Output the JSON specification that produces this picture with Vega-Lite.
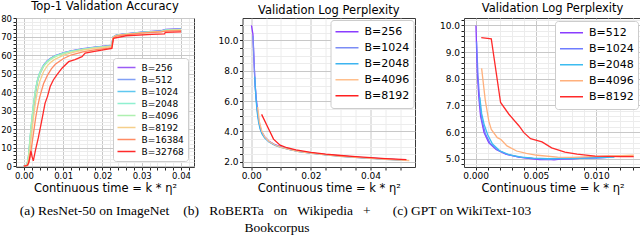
{
  "$schema": "https://vega.github.io/schema/vega-lite/v6.json",
  "padding": 0,
  "background": "white",
  "config": {
    "font": "DejaVu Sans",
    "view": {"stroke": "#3a3a3a", "strokeWidth": 1},
    "axis": {"domain": false, "grid": true, "labelFont": "DejaVu Sans", "labelColor": "#000", "tickColor": "#222", "tickSize": 3, "labelPadding": 1.5, "titleFont": "DejaVu Sans", "titleFontWeight": "normal", "titleColor": "#000", "titleFontSize": 11.5, "labelOverlap": false, "labelFlush": false, "titlePadding": 2},
    "title": {"font": "DejaVu Sans", "fontWeight": "normal", "fontSize": 11.5, "color": "#000", "offset": 2, "anchor": "middle"},
    "legend": {"fillColor": "white", "strokeColor": "#cccccc", "cornerRadius": 3, "symbolType": "stroke", "labelFont": "DejaVu Sans", "labelColor": "#000"}
  },
  "datasets": {
    "resnet": [
      {"B":"B=256","t":0,"v":0},{"B":"B=256","t":0.0008,"v":0.5},{"B":"B=256","t":0.0012,"v":5},{"B":"B=256","t":0.0016,"v":14},{"B":"B=256","t":0.002,"v":23},{"B":"B=256","t":0.0025,"v":33},{"B":"B=256","t":0.003,"v":41},{"B":"B=256","t":0.0035,"v":46.5},{"B":"B=256","t":0.004,"v":50},{"B":"B=256","t":0.005,"v":54.5},{"B":"B=256","t":0.006,"v":57},{"B":"B=256","t":0.007,"v":58.5},{"B":"B=256","t":0.008,"v":59.7},{"B":"B=256","t":0.01,"v":61.2},{"B":"B=256","t":0.012,"v":62.3},{"B":"B=256","t":0.015,"v":63.4},{"B":"B=256","t":0.018,"v":64.3},{"B":"B=256","t":0.0215,"v":65},{"B":"B=256","t":0.0224,"v":65.3},{"B":"B=256","t":0.0227,"v":69.8},{"B":"B=256","t":0.0235,"v":70.8},{"B":"B=256","t":0.025,"v":71.3},{"B":"B=256","t":0.03,"v":72.4},{"B":"B=256","t":0.035,"v":73.1},{"B":"B=256","t":0.036,"v":73.8},{"B":"B=256","t":0.04,"v":74.2},
      {"B":"B=512","t":0,"v":0},{"B":"B=512","t":0.0008,"v":0.4},{"B":"B=512","t":0.0012,"v":4.5},{"B":"B=512","t":0.0016,"v":13},{"B":"B=512","t":0.002,"v":22},{"B":"B=512","t":0.0025,"v":32},{"B":"B=512","t":0.003,"v":40},{"B":"B=512","t":0.0035,"v":46},{"B":"B=512","t":0.004,"v":49.5},{"B":"B=512","t":0.005,"v":54},{"B":"B=512","t":0.006,"v":56.7},{"B":"B=512","t":0.007,"v":58.3},{"B":"B=512","t":0.008,"v":59.5},{"B":"B=512","t":0.01,"v":61},{"B":"B=512","t":0.012,"v":62.1},{"B":"B=512","t":0.015,"v":63.2},{"B":"B=512","t":0.018,"v":64.1},{"B":"B=512","t":0.0215,"v":64.9},{"B":"B=512","t":0.0224,"v":65.1},{"B":"B=512","t":0.0227,"v":69.7},{"B":"B=512","t":0.0235,"v":70.7},{"B":"B=512","t":0.025,"v":71.2},{"B":"B=512","t":0.03,"v":72.3},{"B":"B=512","t":0.035,"v":73},{"B":"B=512","t":0.036,"v":73.7},{"B":"B=512","t":0.04,"v":74.1},
      {"B":"B=1024","t":0,"v":0},{"B":"B=1024","t":0.0008,"v":0.5},{"B":"B=1024","t":0.0012,"v":5.5},{"B":"B=1024","t":0.0016,"v":15},{"B":"B=1024","t":0.002,"v":24},{"B":"B=1024","t":0.0025,"v":34},{"B":"B=1024","t":0.003,"v":41.5},{"B":"B=1024","t":0.0035,"v":46.5},{"B":"B=1024","t":0.004,"v":50},{"B":"B=1024","t":0.005,"v":54.3},{"B":"B=1024","t":0.006,"v":56.8},{"B":"B=1024","t":0.007,"v":58.3},{"B":"B=1024","t":0.008,"v":59.5},{"B":"B=1024","t":0.01,"v":61},{"B":"B=1024","t":0.012,"v":62.1},{"B":"B=1024","t":0.015,"v":63.2},{"B":"B=1024","t":0.018,"v":64.1},{"B":"B=1024","t":0.0215,"v":64.8},{"B":"B=1024","t":0.0224,"v":65},{"B":"B=1024","t":0.0227,"v":69.6},{"B":"B=1024","t":0.0235,"v":70.6},{"B":"B=1024","t":0.025,"v":71.1},{"B":"B=1024","t":0.03,"v":72.2},{"B":"B=1024","t":0.035,"v":72.9},{"B":"B=1024","t":0.036,"v":73.5},{"B":"B=1024","t":0.04,"v":73.9},
      {"B":"B=2048","t":0,"v":0},{"B":"B=2048","t":0.0008,"v":0.6},{"B":"B=2048","t":0.0012,"v":6},{"B":"B=2048","t":0.0016,"v":16},{"B":"B=2048","t":0.002,"v":25},{"B":"B=2048","t":0.0025,"v":34.5},{"B":"B=2048","t":0.003,"v":42},{"B":"B=2048","t":0.0035,"v":47},{"B":"B=2048","t":0.004,"v":50.3},{"B":"B=2048","t":0.005,"v":54.3},{"B":"B=2048","t":0.006,"v":56.7},{"B":"B=2048","t":0.007,"v":58.2},{"B":"B=2048","t":0.008,"v":59.4},{"B":"B=2048","t":0.01,"v":60.9},{"B":"B=2048","t":0.012,"v":62},{"B":"B=2048","t":0.015,"v":63.1},{"B":"B=2048","t":0.018,"v":64},{"B":"B=2048","t":0.0215,"v":64.7},{"B":"B=2048","t":0.0224,"v":64.9},{"B":"B=2048","t":0.0227,"v":69.5},{"B":"B=2048","t":0.0235,"v":70.5},{"B":"B=2048","t":0.025,"v":71},{"B":"B=2048","t":0.03,"v":72.1},{"B":"B=2048","t":0.035,"v":72.8},{"B":"B=2048","t":0.036,"v":73.4},{"B":"B=2048","t":0.04,"v":73.8},
      {"B":"B=4096","t":0,"v":0},{"B":"B=4096","t":0.0008,"v":0.5},{"B":"B=4096","t":0.0012,"v":5.5},{"B":"B=4096","t":0.0016,"v":15},{"B":"B=4096","t":0.002,"v":24},{"B":"B=4096","t":0.0025,"v":33.5},{"B":"B=4096","t":0.003,"v":41},{"B":"B=4096","t":0.0035,"v":46},{"B":"B=4096","t":0.004,"v":49.5},{"B":"B=4096","t":0.005,"v":53.8},{"B":"B=4096","t":0.006,"v":56.3},{"B":"B=4096","t":0.007,"v":57.9},{"B":"B=4096","t":0.008,"v":59.1},{"B":"B=4096","t":0.01,"v":60.7},{"B":"B=4096","t":0.012,"v":61.8},{"B":"B=4096","t":0.015,"v":63},{"B":"B=4096","t":0.018,"v":63.9},{"B":"B=4096","t":0.0215,"v":64.6},{"B":"B=4096","t":0.0224,"v":64.8},{"B":"B=4096","t":0.0227,"v":69.5},{"B":"B=4096","t":0.0235,"v":70.5},{"B":"B=4096","t":0.025,"v":71},{"B":"B=4096","t":0.03,"v":72.1},{"B":"B=4096","t":0.035,"v":72.8},{"B":"B=4096","t":0.036,"v":73.3},{"B":"B=4096","t":0.04,"v":73.7},
      {"B":"B=8192","t":0,"v":0},{"B":"B=8192","t":0.0008,"v":0.3},{"B":"B=8192","t":0.0012,"v":3.5},{"B":"B=8192","t":0.0016,"v":10},{"B":"B=8192","t":0.002,"v":18},{"B":"B=8192","t":0.0025,"v":27},{"B":"B=8192","t":0.003,"v":35},{"B":"B=8192","t":0.0035,"v":41},{"B":"B=8192","t":0.004,"v":45.5},{"B":"B=8192","t":0.005,"v":51},{"B":"B=8192","t":0.006,"v":54.3},{"B":"B=8192","t":0.007,"v":56.3},{"B":"B=8192","t":0.008,"v":57.8},{"B":"B=8192","t":0.01,"v":59.8},{"B":"B=8192","t":0.012,"v":61.2},{"B":"B=8192","t":0.015,"v":62.6},{"B":"B=8192","t":0.018,"v":63.6},{"B":"B=8192","t":0.0215,"v":64.4},{"B":"B=8192","t":0.0224,"v":64.6},{"B":"B=8192","t":0.0227,"v":69.5},{"B":"B=8192","t":0.0235,"v":70.5},{"B":"B=8192","t":0.025,"v":71},{"B":"B=8192","t":0.03,"v":72},{"B":"B=8192","t":0.035,"v":72.7},{"B":"B=8192","t":0.036,"v":73.2},{"B":"B=8192","t":0.04,"v":73.6},
      {"B":"B=16384","t":0,"v":0},{"B":"B=16384","t":0.001,"v":0.3},{"B":"B=16384","t":0.0014,"v":3},{"B":"B=16384","t":0.0018,"v":8},{"B":"B=16384","t":0.0022,"v":14},{"B":"B=16384","t":0.0026,"v":20},{"B":"B=16384","t":0.003,"v":26},{"B":"B=16384","t":0.0035,"v":32},{"B":"B=16384","t":0.004,"v":37},{"B":"B=16384","t":0.005,"v":44.5},{"B":"B=16384","t":0.006,"v":49},{"B":"B=16384","t":0.007,"v":52.5},{"B":"B=16384","t":0.008,"v":55},{"B":"B=16384","t":0.01,"v":58},{"B":"B=16384","t":0.012,"v":60},{"B":"B=16384","t":0.015,"v":61.7},{"B":"B=16384","t":0.018,"v":62.8},{"B":"B=16384","t":0.0215,"v":63.7},{"B":"B=16384","t":0.0224,"v":64},{"B":"B=16384","t":0.0227,"v":69},{"B":"B=16384","t":0.0235,"v":70.2},{"B":"B=16384","t":0.025,"v":70.8},{"B":"B=16384","t":0.03,"v":71.8},{"B":"B=16384","t":0.035,"v":72.5},{"B":"B=16384","t":0.036,"v":72.9},{"B":"B=16384","t":0.04,"v":73.2},
      {"B":"B=32768","t":0,"v":0},{"B":"B=32768","t":0.0008,"v":0.3},{"B":"B=32768","t":0.0012,"v":1.5},{"B":"B=32768","t":0.0015,"v":4.5},{"B":"B=32768","t":0.0018,"v":8.2},{"B":"B=32768","t":0.0021,"v":5},{"B":"B=32768","t":0.0024,"v":2.8},{"B":"B=32768","t":0.003,"v":9},{"B":"B=32768","t":0.0037,"v":15.5},{"B":"B=32768","t":0.0045,"v":24},{"B":"B=32768","t":0.005,"v":29.6},{"B":"B=32768","t":0.0054,"v":34},{"B":"B=32768","t":0.006,"v":37.5},{"B":"B=32768","t":0.0067,"v":43},{"B":"B=32768","t":0.0075,"v":46.5},{"B":"B=32768","t":0.0084,"v":49.3},{"B":"B=32768","t":0.0097,"v":52.9},{"B":"B=32768","t":0.0114,"v":56.4},{"B":"B=32768","t":0.013,"v":57.5},{"B":"B=32768","t":0.0148,"v":59.1},{"B":"B=32768","t":0.0156,"v":61},{"B":"B=32768","t":0.018,"v":62},{"B":"B=32768","t":0.0198,"v":62.7},{"B":"B=32768","t":0.0224,"v":63.6},{"B":"B=32768","t":0.0228,"v":69},{"B":"B=32768","t":0.026,"v":70.4},{"B":"B=32768","t":0.0326,"v":71.1},{"B":"B=32768","t":0.0358,"v":71.4},{"B":"B=32768","t":0.036,"v":72.2},{"B":"B=32768","t":0.04,"v":72.5}
    ],
    "roberta": [
      {"B":"B=256","t":0.0001,"v":11.0},{"B":"B=256","t":0.0006,"v":10.4},{"B":"B=256","t":0.001,"v":8.5},{"B":"B=256","t":0.0013,"v":7.2},{"B":"B=256","t":0.0016,"v":6.4},{"B":"B=256","t":0.002,"v":5.6},{"B":"B=256","t":0.0025,"v":4.8},{"B":"B=256","t":0.003,"v":4.3},{"B":"B=256","t":0.0036,"v":3.95},{"B":"B=256","t":0.0045,"v":3.65},{"B":"B=256","t":0.006,"v":3.35},{"B":"B=256","t":0.008,"v":3.12},{"B":"B=256","t":0.01,"v":2.98},{"B":"B=256","t":0.013,"v":2.82},{"B":"B=256","t":0.016,"v":2.7},{"B":"B=256","t":0.02,"v":2.58},{"B":"B=256","t":0.025,"v":2.47},{"B":"B=256","t":0.03,"v":2.38},{"B":"B=256","t":0.035,"v":2.3},{"B":"B=256","t":0.04,"v":2.24},{"B":"B=256","t":0.045,"v":2.18},{"B":"B=256","t":0.052,"v":2.11},
      {"B":"B=1024","t":0.0006,"v":10.3},{"B":"B=1024","t":0.001,"v":8.4},{"B":"B=1024","t":0.0013,"v":7.1},{"B":"B=1024","t":0.0016,"v":6.3},{"B":"B=1024","t":0.002,"v":5.5},{"B":"B=1024","t":0.0025,"v":4.75},{"B":"B=1024","t":0.003,"v":4.25},{"B":"B=1024","t":0.0036,"v":3.9},{"B":"B=1024","t":0.0045,"v":3.6},{"B":"B=1024","t":0.006,"v":3.32},{"B":"B=1024","t":0.008,"v":3.1},{"B":"B=1024","t":0.01,"v":2.96},{"B":"B=1024","t":0.013,"v":2.8},{"B":"B=1024","t":0.016,"v":2.68},{"B":"B=1024","t":0.02,"v":2.57},{"B":"B=1024","t":0.025,"v":2.46},{"B":"B=1024","t":0.03,"v":2.37},{"B":"B=1024","t":0.035,"v":2.29},{"B":"B=1024","t":0.04,"v":2.23},{"B":"B=1024","t":0.045,"v":2.17},{"B":"B=1024","t":0.052,"v":2.1},
      {"B":"B=2048","t":0.0012,"v":7.6},{"B":"B=2048","t":0.0016,"v":6.2},{"B":"B=2048","t":0.002,"v":5.3},{"B":"B=2048","t":0.0025,"v":4.6},{"B":"B=2048","t":0.003,"v":4.15},{"B":"B=2048","t":0.0036,"v":3.85},{"B":"B=2048","t":0.0045,"v":3.58},{"B":"B=2048","t":0.006,"v":3.3},{"B":"B=2048","t":0.008,"v":3.08},{"B":"B=2048","t":0.01,"v":2.94},{"B":"B=2048","t":0.013,"v":2.79},{"B":"B=2048","t":0.016,"v":2.67},{"B":"B=2048","t":0.02,"v":2.56},{"B":"B=2048","t":0.025,"v":2.45},{"B":"B=2048","t":0.03,"v":2.36},{"B":"B=2048","t":0.035,"v":2.28},{"B":"B=2048","t":0.04,"v":2.22},{"B":"B=2048","t":0.045,"v":2.16},{"B":"B=2048","t":0.052,"v":2.09},
      {"B":"B=4096","t":0.0022,"v":5.6},{"B":"B=4096","t":0.0028,"v":4.6},{"B":"B=4096","t":0.0036,"v":4.0},{"B":"B=4096","t":0.0045,"v":3.65},{"B":"B=4096","t":0.006,"v":3.33},{"B":"B=4096","t":0.008,"v":3.1},{"B":"B=4096","t":0.01,"v":2.95},{"B":"B=4096","t":0.013,"v":2.79},{"B":"B=4096","t":0.016,"v":2.67},{"B":"B=4096","t":0.02,"v":2.56},{"B":"B=4096","t":0.025,"v":2.45},{"B":"B=4096","t":0.03,"v":2.36},{"B":"B=4096","t":0.035,"v":2.28},{"B":"B=4096","t":0.04,"v":2.22},{"B":"B=4096","t":0.045,"v":2.16},{"B":"B=4096","t":0.053,"v":2.08},
      {"B":"B=8192","t":0.0035,"v":5.12},{"B":"B=8192","t":0.0055,"v":4.3},{"B":"B=8192","t":0.0075,"v":3.49},{"B":"B=8192","t":0.0097,"v":3.09},{"B":"B=8192","t":0.012,"v":2.92},{"B":"B=8192","t":0.015,"v":2.78},{"B":"B=8192","t":0.02,"v":2.62},{"B":"B=8192","t":0.025,"v":2.5},{"B":"B=8192","t":0.03,"v":2.41},{"B":"B=8192","t":0.035,"v":2.33},{"B":"B=8192","t":0.04,"v":2.27},{"B":"B=8192","t":0.045,"v":2.2},{"B":"B=8192","t":0.052,"v":2.13}
    ],
    "gpt": [
      {"B":"B=512","t":0.00003,"v":10.0},{"B":"B=512","t":0.00014,"v":8.24},{"B":"B=512","t":0.00028,"v":7.24},{"B":"B=512","t":0.00041,"v":6.61},{"B":"B=512","t":0.0007,"v":5.98},{"B":"B=512","t":0.0011,"v":5.6},{"B":"B=512","t":0.0017,"v":5.35},{"B":"B=512","t":0.0025,"v":5.17},{"B":"B=512","t":0.0036,"v":5.06},{"B":"B=512","t":0.0047,"v":5.0},{"B":"B=512","t":0.0053,"v":4.97},{"B":"B=512","t":0.006,"v":4.98},{"B":"B=512","t":0.0065,"v":4.96},{"B":"B=512","t":0.007,"v":4.99},{"B":"B=512","t":0.0079,"v":5.0},{"B":"B=512","t":0.009,"v":5.02},{"B":"B=512","t":0.0101,"v":5.03},{"B":"B=512","t":0.011,"v":5.05},
      {"B":"B=1024","t":0.00008,"v":9.4},{"B":"B=1024","t":0.0002,"v":8.1},{"B":"B=1024","t":0.00035,"v":7.1},{"B":"B=1024","t":0.0005,"v":6.5},{"B":"B=1024","t":0.0008,"v":5.95},{"B":"B=1024","t":0.0012,"v":5.58},{"B":"B=1024","t":0.0018,"v":5.33},{"B":"B=1024","t":0.0026,"v":5.16},{"B":"B=1024","t":0.0036,"v":5.06},{"B":"B=1024","t":0.0047,"v":5.01},{"B":"B=1024","t":0.006,"v":4.98},{"B":"B=1024","t":0.007,"v":5.0},{"B":"B=1024","t":0.008,"v":5.0},{"B":"B=1024","t":0.009,"v":5.02},{"B":"B=1024","t":0.0102,"v":5.04},{"B":"B=1024","t":0.0109,"v":5.05},
      {"B":"B=2048","t":0.00035,"v":7.3},{"B":"B=2048","t":0.0005,"v":6.7},{"B":"B=2048","t":0.0007,"v":6.3},{"B":"B=2048","t":0.001,"v":5.9},{"B":"B=2048","t":0.0014,"v":5.55},{"B":"B=2048","t":0.002,"v":5.3},{"B":"B=2048","t":0.0028,"v":5.15},{"B":"B=2048","t":0.0038,"v":5.06},{"B":"B=2048","t":0.0048,"v":5.02},{"B":"B=2048","t":0.006,"v":5.0},{"B":"B=2048","t":0.007,"v":5.01},{"B":"B=2048","t":0.008,"v":5.01},{"B":"B=2048","t":0.009,"v":5.02},{"B":"B=2048","t":0.0103,"v":5.04},{"B":"B=2048","t":0.0115,"v":5.06},
      {"B":"B=4096","t":0.0005,"v":8.39},{"B":"B=4096","t":0.0008,"v":7.2},{"B":"B=4096","t":0.0011,"v":6.4},{"B":"B=4096","t":0.0013,"v":6.1},{"B":"B=4096","t":0.0018,"v":5.79},{"B":"B=4096","t":0.0021,"v":5.72},{"B":"B=4096","t":0.0026,"v":5.48},{"B":"B=4096","t":0.0034,"v":5.29},{"B":"B=4096","t":0.0042,"v":5.2},{"B":"B=4096","t":0.0051,"v":5.13},{"B":"B=4096","t":0.0068,"v":5.06},{"B":"B=4096","t":0.008,"v":5.05},{"B":"B=4096","t":0.009,"v":5.07},{"B":"B=4096","t":0.0105,"v":5.1},{"B":"B=4096","t":0.012,"v":5.12},{"B":"B=4096","t":0.0131,"v":5.13},
      {"B":"B=8192","t":0.00047,"v":9.54},{"B":"B=8192","t":0.0013,"v":9.5},{"B":"B=8192","t":0.00207,"v":7.11},{"B":"B=8192","t":0.00276,"v":6.67},{"B":"B=8192","t":0.0036,"v":6.23},{"B":"B=8192","t":0.004,"v":5.98},{"B":"B=8192","t":0.00455,"v":5.75},{"B":"B=8192","t":0.0055,"v":5.63},{"B":"B=8192","t":0.0063,"v":5.41},{"B":"B=8192","t":0.0074,"v":5.25},{"B":"B=8192","t":0.0084,"v":5.17},{"B":"B=8192","t":0.0099,"v":5.1},{"B":"B=8192","t":0.011,"v":5.09},{"B":"B=8192","t":0.012,"v":5.08},{"B":"B=8192","t":0.0131,"v":5.08}
    ],
    "captions_a": [{"c": "(a) ResNet-50 on ImageNet"}],
    "captions_b": [{"c": "(b)\u00a0\u00a0 RoBERTa\u00a0\u00a0 on\u00a0\u00a0 Wikipedia\u00a0\u00a0 +\nBookcorpus"}],
    "captions_c": [{"c": "(c) GPT on WikiText-103"}]
  },
  "resolve": {"scale": {"x": "independent", "y": "independent", "color": "independent"}, "legend": {"color": "independent"}},
  "spacing": 8,
  "vconcat": [
    {
      "hconcat": [
        {
          "width": 178, "height": 149,
          "title": {"text": "Top-1 Validation Accuracy"},
          "data": {"name": "resnet"},
          "mark": {"type": "line", "strokeWidth": 1.3, "clip": true},
          "encoding": {
            "x": {"field": "t", "type": "quantitative", "scale": {"domain": [-0.002, 0.0433], "nice": false, "zero": false},
                  "axis": {"title": "Continuous time = k * η²", "values": [0,0.002,0.004,0.006,0.008,0.01,0.012,0.014,0.016,0.018,0.02,0.022,0.024,0.026,0.028,0.03,0.032,0.034,0.036,0.038,0.04,0.042], "format": ".2f", "labelFontSize": 8.5,
                           "labelExpr": "abs(datum.value*100 - round(datum.value*100)) < 1e-6 ? datum.label : ''",
                           "gridColor": {"condition": {"test": "abs(datum.value*100 - round(datum.value*100)) < 1e-6", "value": "#c8c8c8"}, "value": "#ececec"}}},
            "y": {"field": "v", "type": "quantitative", "scale": {"domain": [-0.5, 80], "nice": false, "zero": false},
                  "axis": {"title": null, "values": [0,2,4,6,8,10,12,14,16,18,20,22,24,26,28,30,32,34,36,38,40,42,44,46,48,50,52,54,56,58,60,62,64,66,68,70,72,74,76,78,80], "labelFontSize": 8.5,
                           "labelExpr": "datum.value % 10 == 0 ? datum.label : ''",
                           "gridColor": {"condition": {"test": "datum.value % 10 == 0", "value": "#c8c8c8"}, "value": "#ececec"}}},
            "color": {"field": "B", "type": "nominal",
                      "scale": {"domain": ["B=256","B=512","B=1024","B=2048","B=4096","B=8192","B=16384","B=32768"], "range": ["#9b5cf5","#82a0f5","#5fc8f0","#8ff0d0","#aef0b0","#f5cf8a","#ff8c64","#ff2a2a"]},
                      "legend": {"title": null, "orient": "bottom-right", "offset": 6, "labelFontSize": 9, "symbolSize": 324, "symbolStrokeWidth": 1.5, "clipHeight": 12, "rowPadding": 0, "padding": 3.5, "labelOffset": 5}}
          }
        },
        {
          "width": 172.5, "height": 149,
          "title": {"text": "Validation Log Perplexity"},
          "data": {"name": "roberta"},
          "mark": {"type": "line", "strokeWidth": 1.3, "clip": true},
          "encoding": {
            "x": {"field": "t", "type": "quantitative", "scale": {"domain": [-0.0029, 0.0549], "nice": false, "zero": false},
                  "axis": {"title": "Continuous time = k * η²", "values": [0,0.005,0.01,0.015,0.02,0.025,0.03,0.035,0.04,0.045,0.05], "format": ".2f", "labelFontSize": 9,
                           "labelExpr": "abs(datum.value*50 - round(datum.value*50)) < 1e-6 ? datum.label : ''",
                           "gridColor": {"condition": {"test": "abs(datum.value*50 - round(datum.value*50)) < 1e-6", "value": "#c8c8c8"}, "value": "#ececec"}}},
            "y": {"field": "v", "type": "quantitative", "scale": {"domain": [1.65, 11.48], "nice": false, "zero": false},
                  "axis": {"title": null, "values": [2,2.5,3,3.5,4,4.5,5,5.5,6,6.5,7,7.5,8,8.5,9,9.5,10,10.5,11], "labelFontSize": 9,
                           "labelExpr": "datum.value % 2 == 0 ? datum.label : ''",
                           "gridColor": {"condition": {"test": "datum.value % 2 == 0", "value": "#c8c8c8"}, "value": "#ececec"}}},
            "color": {"field": "B", "type": "nominal",
                      "scale": {"domain": ["B=256","B=1024","B=2048","B=4096","B=8192"], "range": ["#8a3cff","#7b8cf5","#3cb4f0","#ffbf8c","#ff2020"]},
                      "legend": {"title": null, "orient": "top-right", "offset": 2, "labelFontSize": 11, "symbolSize": 529, "symbolStrokeWidth": 1.5, "clipHeight": 15.5, "rowPadding": 0, "padding": 4, "labelOffset": 5}}
          }
        },
        {
          "width": 177, "height": 149,
          "title": {"text": "Validation Log Perplexity"},
          "data": {"name": "gpt"},
          "mark": {"type": "line", "strokeWidth": 1.3, "clip": true},
          "encoding": {
            "x": {"field": "t", "type": "quantitative", "scale": {"domain": [-0.00096, 0.0137], "nice": false, "zero": false},
                  "axis": {"title": "Continuous time = k * η²", "values": [0,0.001,0.002,0.003,0.004,0.005,0.006,0.007,0.008,0.009,0.01,0.011,0.012,0.013], "format": ".3f", "labelFontSize": 9,
                           "labelExpr": "abs(datum.value*200 - round(datum.value*200)) < 1e-6 ? datum.label : ''",
                           "gridColor": {"condition": {"test": "abs(datum.value*200 - round(datum.value*200)) < 1e-6", "value": "#c8c8c8"}, "value": "#ececec"}}},
            "y": {"field": "v", "type": "quantitative", "scale": {"domain": [4.69, 10.28], "nice": false, "zero": false},
                  "axis": {"title": null, "values": [4.8,5,5.2,5.4,5.6,5.8,6,6.2,6.4,6.6,6.8,7,7.2,7.4,7.6,7.8,8,8.2,8.4,8.6,8.8,9,9.2,9.4,9.6,9.8,10,10.2], "labelFontSize": 9,
                           "labelExpr": "abs(datum.value - round(datum.value)) < 1e-6 ? datum.label : ''",
                           "gridColor": {"condition": {"test": "abs(datum.value - round(datum.value)) < 1e-6", "value": "#c8c8c8"}, "value": "#ececec"}}},
            "color": {"field": "B", "type": "nominal",
                      "scale": {"domain": ["B=512","B=1024","B=2048","B=4096","B=8192"], "range": ["#8a3cff","#6e7cff","#3cbcf0","#ffb07c","#ff2a2a"]},
                      "legend": {"title": null, "orient": "top-right", "offset": 3, "labelFontSize": 11, "symbolSize": 529, "symbolStrokeWidth": 1.5, "clipHeight": 15.5, "rowPadding": 0, "padding": 4, "labelOffset": 5}}
          }
        }
      ],
      "spacing": 48.5,
      "bounds": "flush",
      "resolve": {"scale": {"x": "independent", "y": "independent", "color": "independent"}, "legend": {"color": "independent"}}
    },
    {
      "hconcat": [
        {"width": 157, "height": 2, "view": {"stroke": null}, "data": {"name": "captions_a"},
         "mark": {"type": "text", "font": "Liberation Serif", "fontSize": 13.5, "baseline": "top", "align": "center", "lineBreak": "\n", "lineHeight": 17, "color": "#000"},
         "encoding": {"text": {"field": "c"}}},
        {"width": 208, "height": 2, "view": {"stroke": null}, "data": {"name": "captions_b"},
         "mark": {"type": "text", "font": "Liberation Serif", "fontSize": 13.5, "baseline": "top", "align": "center", "lineBreak": "\n", "lineHeight": 17, "color": "#000"},
         "encoding": {"text": {"field": "c"}}},
        {"width": 162, "height": 2, "view": {"stroke": null}, "data": {"name": "captions_c"},
         "mark": {"type": "text", "font": "Liberation Serif", "fontSize": 13.5, "baseline": "top", "align": "center", "lineBreak": "\n", "lineHeight": 17, "color": "#000"},
         "encoding": {"text": {"field": "c"}}}
      ],
      "spacing": 0,
      "bounds": "flush"
    }
  ]
}
